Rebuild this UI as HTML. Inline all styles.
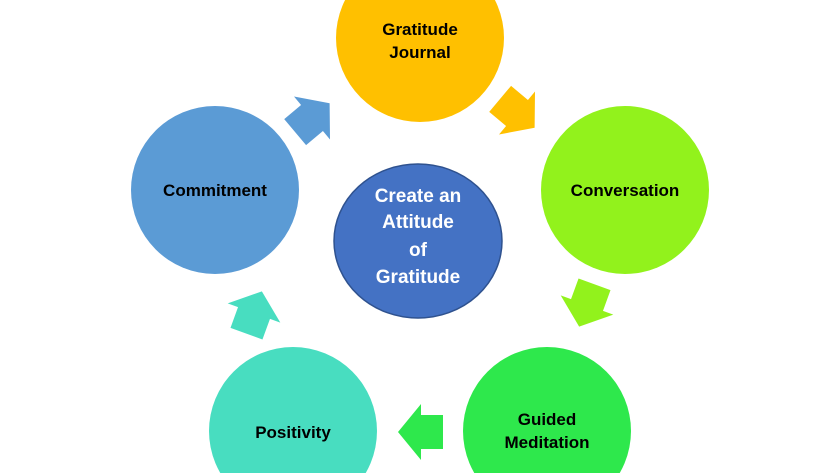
<!DOCTYPE html>
<html><head><style>html,body{margin:0;padding:0;background:#fff;width:840px;height:473px;overflow:hidden;}svg{display:block}
text{font-family:"Liberation Sans","DejaVu Sans",sans-serif;font-weight:bold;text-anchor:middle}</style></head>
<body>
<svg width="840" height="473" viewBox="0 0 840 473" xmlns="http://www.w3.org/2000/svg">
<defs><polygon id="ar" points="-22,-17 0,-17 0,-28 23,0 0,28 0,17 -22,17"/>
<clipPath id="c"><rect x="0" y="0" width="840" height="473"/></clipPath></defs>
<g clip-path="url(#c)">
<circle cx="420" cy="38" r="84" fill="#FFC000"/>
<circle cx="625" cy="190" r="84" fill="#92F21C"/>
<circle cx="547" cy="431" r="84" fill="#2EE84C"/>
<circle cx="293" cy="431" r="84" fill="#48DDC0"/>
<circle cx="215" cy="190" r="84" fill="#5B9BD5"/>
<ellipse cx="418" cy="241" rx="84" ry="77" fill="#4472C4" stroke="#2F528F" stroke-width="1.5"/>
<use href="#ar" fill="#5B9BD5" transform="translate(312,118) rotate(-40)"/>
<use href="#ar" fill="#FFC000" transform="translate(517,113) rotate(40)"/>
<use href="#ar" fill="#92F21C" transform="translate(587,305) rotate(110)"/>
<use href="#ar" fill="#2EE84C" transform="translate(421,432) rotate(180)"/>
<use href="#ar" fill="#48DDC0" transform="translate(254,313) rotate(-70)"/>
</g>
<g font-size="17" fill="#000">
<text x="420" y="35">Gratitude</text><text x="420" y="58">Journal</text>
<text x="625" y="196">Conversation</text>
<text x="547" y="425">Guided</text><text x="547" y="448">Meditation</text>
<text x="293" y="438">Positivity</text>
<text x="215" y="196">Commitment</text>
</g>
<g font-size="19" fill="#fff">
<text x="418" y="202">Create an</text><text x="418" y="228">Attitude</text>
<text x="418" y="256">of</text><text x="418" y="283">Gratitude</text>
</g>
</svg>
</body></html>
